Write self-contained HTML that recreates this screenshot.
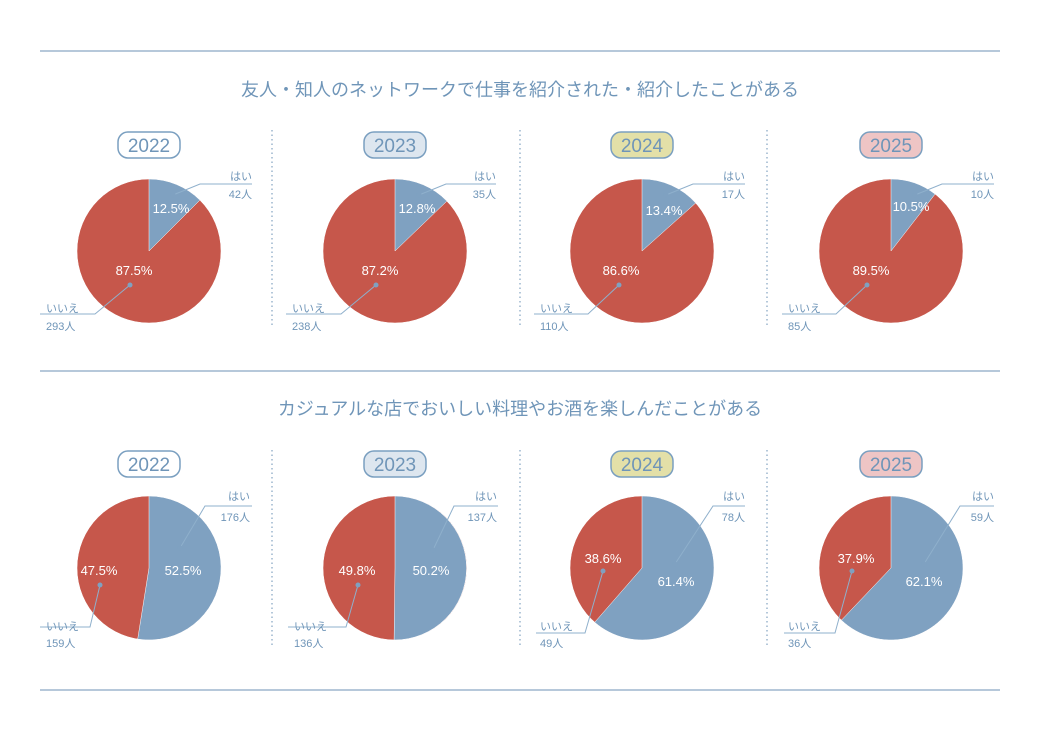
<!DOCTYPE html><html><head><meta charset="utf-8"><style>
body{margin:0;background:#fff}
svg text{font-family:"Liberation Sans","Noto Sans CJK JP",sans-serif}
</style></head><body>
<svg width="1040" height="742" viewBox="0 0 1040 742" xmlns="http://www.w3.org/2000/svg">
<g stroke="#8aa8c4" stroke-width="1.3"><line x1="40" y1="51" x2="1000" y2="51"/><line x1="40" y1="371" x2="1000" y2="371"/><line x1="40" y1="690" x2="1000" y2="690"/></g>
<g stroke="#9bb5cd" stroke-width="1.5" stroke-dasharray="1.5,3">
<line x1="272" y1="130" x2="272" y2="326"/><line x1="520" y1="130" x2="520" y2="326"/><line x1="767" y1="130" x2="767" y2="326"/>
<line x1="272" y1="450" x2="272" y2="648"/><line x1="520" y1="450" x2="520" y2="648"/><line x1="767" y1="450" x2="767" y2="648"/></g>
<g fill="#6f95b8" font-size="18" text-anchor="middle">
<text x="520" y="96">友人・知人のネットワークで仕事を紹介された・紹介したことがある</text>
<text x="520" y="415">カジュアルな店でおいしい料理やお酒を楽しんだことがある</text></g>
<g stroke="#7a9fc0" stroke-width="1.5">
<rect x="118" y="132" width="62" height="26" rx="10" fill="#fff"/><rect x="364" y="132" width="62" height="26" rx="10" fill="#dde6ef"/><rect x="611" y="132" width="62" height="26" rx="10" fill="#e3e0a8"/><rect x="860" y="132" width="62" height="26" rx="10" fill="#eec5c5"/>
<rect x="118" y="451" width="62" height="26" rx="10" fill="#fff"/><rect x="364" y="451" width="62" height="26" rx="10" fill="#dde6ef"/><rect x="611" y="451" width="62" height="26" rx="10" fill="#e3e0a8"/><rect x="860" y="451" width="62" height="26" rx="10" fill="#eec5c5"/></g>
<g fill="#6f95b8" font-size="19" text-anchor="middle">
<text x="149" y="152">2022</text><text x="395" y="152">2023</text><text x="642" y="152">2024</text><text x="891" y="152">2025</text>
<text x="149" y="471">2022</text><text x="395" y="471">2023</text><text x="642" y="471">2024</text><text x="891" y="471">2025</text></g>
<g stroke="#fff" stroke-width="0.5">
<circle cx="149" cy="251" r="72" fill="#c6574b"/><path d="M149 251V179A72 72 0 0 1 199.9 200.1Z" fill="#7fa1c1"/>
<circle cx="395" cy="251" r="72" fill="#c6574b"/><path d="M395 251V179A72 72 0 0 1 446.9 201.1Z" fill="#7fa1c1"/>
<circle cx="642" cy="251" r="72" fill="#c6574b"/><path d="M642 251V179A72 72 0 0 1 695.7 203Z" fill="#7fa1c1"/>
<circle cx="891" cy="251" r="72" fill="#c6574b"/><path d="M891 251V179A72 72 0 0 1 935.1 194.1Z" fill="#7fa1c1"/>
<circle cx="149" cy="568" r="72" fill="#c6574b"/><path d="M149 568V496A72 72 0 1 1 137.7 639.1Z" fill="#7fa1c1"/>
<circle cx="395" cy="568" r="72" fill="#c6574b"/><path d="M395 568V496A72 72 0 1 1 394.1 640Z" fill="#7fa1c1"/>
<circle cx="642" cy="568" r="72" fill="#c6574b"/><path d="M642 568V496A72 72 0 1 1 594.7 622.3Z" fill="#7fa1c1"/>
<circle cx="891" cy="568" r="72" fill="#c6574b"/><path d="M891 568V496A72 72 0 1 1 841.4 620.2Z" fill="#7fa1c1"/>
</g>
<g fill="none" stroke="#8fb0cc" stroke-width="1">
<polyline points="173,195 200,184 252,184"/><polyline points="130,285 95,314 40,314"/>
<polyline points="419,195 446,184 496,184"/><polyline points="376,285 341,314 286,314"/>
<polyline points="666,195 693,184 745,184"/><polyline points="619,285 588,314 534,314"/>
<polyline points="915,195 942,184 994,184"/><polyline points="867,285 836,314 782,314"/>
<polyline points="180,548 205,506 252,506"/><polyline points="100,585 90,627 40,627"/>
<polyline points="433,550 454,506 498,506"/><polyline points="358,585 346,627 288,627"/>
<polyline points="675,564 713,506 745,506"/><polyline points="603,571 585,633 536,633"/>
<polyline points="924,564 960,506 994,506"/><polyline points="852,571 835,633 784,633"/>
</g>
<g fill="#7fa1c1"><circle cx="173" cy="195" r="2.5"/><circle cx="130" cy="285" r="2.5"/><circle cx="419" cy="195" r="2.5"/><circle cx="376" cy="285" r="2.5"/><circle cx="666" cy="195" r="2.5"/><circle cx="619" cy="285" r="2.5"/><circle cx="915" cy="195" r="2.5"/><circle cx="867" cy="285" r="2.5"/>
<circle cx="180" cy="548" r="2.5"/><circle cx="100" cy="585" r="2.5"/><circle cx="433" cy="550" r="2.5"/><circle cx="358" cy="585" r="2.5"/><circle cx="675" cy="564" r="2.5"/><circle cx="603" cy="571" r="2.5"/><circle cx="924" cy="564" r="2.5"/><circle cx="852" cy="571" r="2.5"/></g>
<g fill="#fff" font-size="13" text-anchor="middle">
<text x="171" y="213">12.5%</text><text x="134" y="275">87.5%</text>
<text x="417" y="213">12.8%</text><text x="380" y="275">87.2%</text>
<text x="664" y="215">13.4%</text><text x="621" y="275">86.6%</text>
<text x="911" y="211">10.5%</text><text x="871" y="275">89.5%</text>
<text x="183" y="575">52.5%</text><text x="99" y="575">47.5%</text>
<text x="431" y="575">50.2%</text><text x="357" y="575">49.8%</text>
<text x="676" y="586">61.4%</text><text x="603" y="563">38.6%</text>
<text x="924" y="586">62.1%</text><text x="856" y="563">37.9%</text></g>
<g fill="#6f95b8" font-size="11" text-anchor="end">
<text x="252" y="180">はい</text><text x="252" y="198">42人</text>
<text x="496" y="180">はい</text><text x="496" y="198">35人</text>
<text x="745" y="180">はい</text><text x="745" y="198">17人</text>
<text x="994" y="180">はい</text><text x="994" y="198">10人</text>
<text x="250" y="500">はい</text><text x="250" y="521">176人</text>
<text x="497" y="500">はい</text><text x="497" y="521">137人</text>
<text x="745" y="500">はい</text><text x="745" y="521">78人</text>
<text x="994" y="500">はい</text><text x="994" y="521">59人</text></g>
<g fill="#6f95b8" font-size="11">
<text x="46" y="312">いいえ</text><text x="46" y="330">293人</text>
<text x="292" y="312">いいえ</text><text x="292" y="330">238人</text>
<text x="540" y="312">いいえ</text><text x="540" y="330">110人</text>
<text x="788" y="312">いいえ</text><text x="788" y="330">85人</text>
<text x="46" y="630">いいえ</text><text x="46" y="647">159人</text>
<text x="294" y="630">いいえ</text><text x="294" y="647">136人</text>
<text x="540" y="630">いいえ</text><text x="540" y="647">49人</text>
<text x="788" y="630">いいえ</text><text x="788" y="647">36人</text></g>
</svg></body></html>
